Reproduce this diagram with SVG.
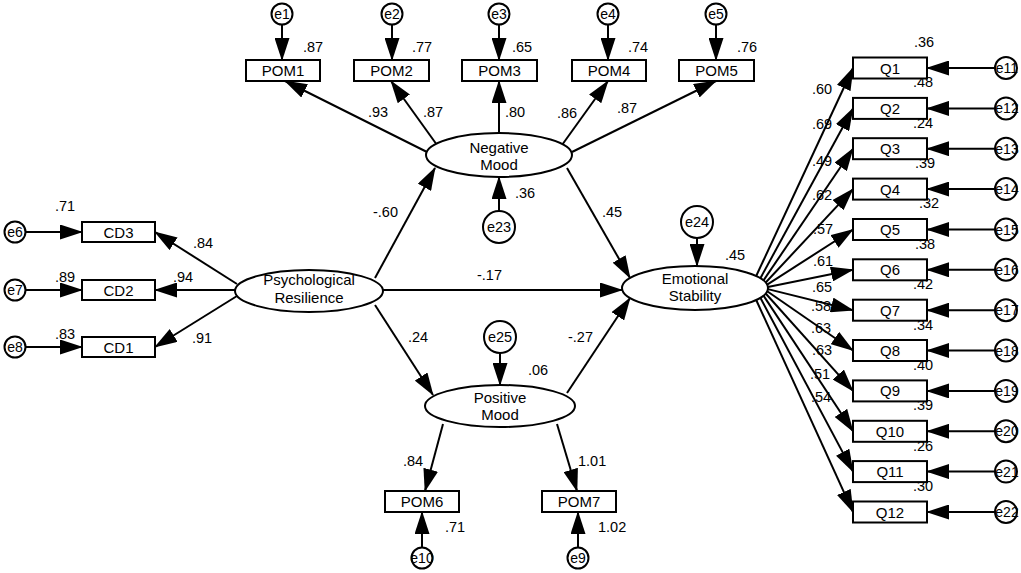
<svg xmlns="http://www.w3.org/2000/svg" width="1021" height="573" viewBox="0 0 1021 573">
<style>
text{font-family:"Liberation Sans",Arial,sans-serif;fill:#000}
.n{font-size:15px;text-anchor:middle}
.v{font-size:14.5px}
.e{font-size:14px;text-anchor:middle}
.em{font-size:14.5px;text-anchor:middle}
rect,ellipse,circle{fill:#fff;stroke:#000;stroke-width:2}
.c line{stroke:#000;stroke-width:2;marker-end:url(#ah)}
</style>
<defs>
<marker id="ah" markerUnits="userSpaceOnUse" markerWidth="23" markerHeight="15" refX="22" refY="7.5" orient="auto"><path d="M0,0 L23,7.5 L0,15 z" fill="#000"/></marker>
</defs>
<rect x="0" y="0" width="1021" height="573" style="fill:#fff;stroke:none"/>
<g class="c" id="connectors">
<line x1="282" y1="24.5" x2="282" y2="60"/>
<line x1="392" y1="24.5" x2="392" y2="60"/>
<line x1="499" y1="24.5" x2="499" y2="60"/>
<line x1="608" y1="24.5" x2="608" y2="60"/>
<line x1="716" y1="24.5" x2="716" y2="60"/>
<line x1="427" y1="152" x2="285" y2="81"/>
<line x1="437" y1="145" x2="391" y2="81"/>
<line x1="499" y1="133" x2="499" y2="81"/>
<line x1="562" y1="145" x2="608" y2="81"/>
<line x1="572" y1="152" x2="716" y2="81"/>
<line x1="25.5" y1="232" x2="82" y2="232"/>
<line x1="25.5" y1="290" x2="82" y2="290"/>
<line x1="25.5" y1="347" x2="82" y2="347"/>
<line x1="237" y1="284" x2="155" y2="232"/>
<line x1="235" y1="290" x2="155" y2="290"/>
<line x1="237" y1="296" x2="155" y2="347"/>
<line x1="375" y1="278" x2="435" y2="168"/>
<line x1="383" y1="290" x2="622" y2="290"/>
<line x1="375" y1="305" x2="433" y2="395"/>
<line x1="567" y1="168" x2="630" y2="278"/>
<line x1="567" y1="393" x2="630" y2="298"/>
<line x1="499" y1="211" x2="499" y2="177"/>
<line x1="697" y1="238" x2="697" y2="266"/>
<line x1="500" y1="353" x2="500" y2="385"/>
<line x1="443" y1="424" x2="425" y2="491"/>
<line x1="557" y1="424" x2="577" y2="491"/>
<line x1="422" y1="547.5" x2="422" y2="512"/>
<line x1="578" y1="547.5" x2="578" y2="512"/>
<line x1="756.2" y1="276" x2="853" y2="68"/>
<line x1="760.4" y1="278.2" x2="853" y2="108.4"/>
<line x1="763.5" y1="280.4" x2="853" y2="148.7"/>
<line x1="765.7" y1="282.5" x2="853" y2="189.1"/>
<line x1="767.2" y1="284.7" x2="853" y2="229.5"/>
<line x1="767.9" y1="286.9" x2="853" y2="269.8"/>
<line x1="767.9" y1="289.1" x2="853" y2="310.2"/>
<line x1="767.2" y1="291.3" x2="853" y2="350.5"/>
<line x1="765.7" y1="293.5" x2="853" y2="390.9"/>
<line x1="763.5" y1="295.6" x2="853" y2="431.3"/>
<line x1="760.4" y1="297.8" x2="853" y2="471.6"/>
<line x1="756.2" y1="300" x2="853" y2="512"/>
<line x1="995" y1="68" x2="927" y2="68"/>
<line x1="995" y1="108.4" x2="927" y2="108.4"/>
<line x1="995" y1="148.7" x2="927" y2="148.7"/>
<line x1="995" y1="189.1" x2="927" y2="189.1"/>
<line x1="995" y1="229.5" x2="927" y2="229.5"/>
<line x1="995" y1="269.8" x2="927" y2="269.8"/>
<line x1="995" y1="310.2" x2="927" y2="310.2"/>
<line x1="995" y1="350.5" x2="927" y2="350.5"/>
<line x1="995" y1="390.9" x2="927" y2="390.9"/>
<line x1="995" y1="431.3" x2="927" y2="431.3"/>
<line x1="995" y1="471.6" x2="927" y2="471.6"/>
<line x1="995" y1="512" x2="927" y2="512"/>
</g>
<g id="labels">
<text class="v" x="303" y="52">.87</text>
<text class="v" x="412" y="52">.77</text>
<text class="v" x="512" y="52">.65</text>
<text class="v" x="628" y="52">.74</text>
<text class="v" x="737" y="52">.76</text>
<text class="v" x="368" y="117">.93</text>
<text class="v" x="423" y="117">.87</text>
<text class="v" x="505" y="117">.80</text>
<text class="v" x="557" y="118">.86</text>
<text class="v" x="617" y="113">.87</text>
<text class="v" x="55" y="211">.71</text>
<text class="v" x="55" y="282">.89</text>
<text class="v" x="55" y="339">.83</text>
<text class="v" x="193" y="248">.84</text>
<text class="v" x="173" y="282">.94</text>
<text class="v" x="192" y="343">.91</text>
<text class="v" x="373" y="217">-.60</text>
<text class="v" x="477" y="280">-.17</text>
<text class="v" x="515" y="198">.36</text>
<text class="v" x="602" y="217">.45</text>
<text class="v" x="408" y="342">.24</text>
<text class="v" x="568" y="342">-.27</text>
<text class="v" x="725" y="260">.45</text>
<text class="v" x="528" y="375">.06</text>
<text class="v" x="403" y="466">.84</text>
<text class="v" x="578" y="466">1.01</text>
<text class="v" x="445" y="532">.71</text>
<text class="v" x="598" y="532">1.02</text>
<text class="v" x="812" y="94">.60</text>
<text class="v" x="812" y="129">.69</text>
<text class="v" x="812" y="166">.49</text>
<text class="v" x="812" y="200">.62</text>
<text class="v" x="813" y="234">.57</text>
<text class="v" x="813" y="266">.61</text>
<text class="v" x="812" y="292">.65</text>
<text class="v" x="811" y="311">.58</text>
<text class="v" x="811" y="333">.63</text>
<text class="v" x="812" y="355">.63</text>
<text class="v" x="810" y="379">.51</text>
<text class="v" x="811" y="402">.54</text>
<text class="v" x="914" y="47">.36</text>
<text class="v" x="913" y="87">.48</text>
<text class="v" x="913" y="128">.24</text>
<text class="v" x="915" y="168">.39</text>
<text class="v" x="919" y="208">.32</text>
<text class="v" x="915" y="249">.38</text>
<text class="v" x="913" y="289">.42</text>
<text class="v" x="913" y="330">.34</text>
<text class="v" x="913" y="370">.40</text>
<text class="v" x="913" y="410">.39</text>
<text class="v" x="913" y="451">.26</text>
<text class="v" x="913" y="491">.30</text>
</g>
<g id="POM1"><rect x="246" y="60" width="74" height="21"/><text class="n" x="283" y="76">POM1</text></g>
<g id="POM2"><rect x="354" y="60" width="75" height="21"/><text class="n" x="391.5" y="76">POM2</text></g>
<g id="POM3"><rect x="462" y="60" width="75" height="21"/><text class="n" x="499.5" y="76">POM3</text></g>
<g id="POM4"><rect x="572" y="60" width="74" height="21"/><text class="n" x="609" y="76">POM4</text></g>
<g id="POM5"><rect x="679" y="60" width="75" height="21"/><text class="n" x="716.5" y="76">POM5</text></g>
<g id="e1"><circle cx="282" cy="14" r="10.5"/><text class="e" x="282" y="19">e1</text></g>
<g id="e2"><circle cx="392" cy="14" r="10.5"/><text class="e" x="392" y="19">e2</text></g>
<g id="e3"><circle cx="499" cy="14" r="10.5"/><text class="e" x="499" y="19">e3</text></g>
<g id="e4"><circle cx="608" cy="14" r="10.5"/><text class="e" x="608" y="19">e4</text></g>
<g id="e5"><circle cx="716" cy="14" r="10.5"/><text class="e" x="716" y="19">e5</text></g>
<g id="CD3"><rect x="82" y="222" width="73" height="20"/><text class="n" x="118.5" y="237.5">CD3</text></g>
<g id="CD2"><rect x="82" y="280" width="73" height="20"/><text class="n" x="118.5" y="295.5">CD2</text></g>
<g id="CD1"><rect x="82" y="337" width="73" height="20"/><text class="n" x="118.5" y="352.5">CD1</text></g>
<g id="e6"><circle cx="15" cy="232" r="10.5"/><text class="e" x="15" y="237">e6</text></g>
<g id="e7"><circle cx="15" cy="290" r="10.5"/><text class="e" x="15" y="295">e7</text></g>
<g id="e8"><circle cx="15" cy="347" r="10.5"/><text class="e" x="15" y="352">e8</text></g>
<g id="PsychologicalResilience"><ellipse cx="309" cy="291" rx="74" ry="21"/><text class="n" x="309" y="285">Psychological</text><text class="n" x="309" y="303">Resilience</text></g>
<g id="NegativeMood"><ellipse cx="499" cy="155" rx="73" ry="22"/><text class="n" x="499" y="153">Negative</text><text class="n" x="499" y="170">Mood</text></g>
<g id="e23"><circle cx="499" cy="227" r="16"/><text class="em" x="499" y="232">e23</text></g>
<g id="EmotionalStability"><ellipse cx="695" cy="288" rx="73" ry="22"/><text class="n" x="695" y="284">Emotional</text><text class="n" x="695" y="301">Stability</text></g>
<g id="e24"><circle cx="697" cy="222" r="16"/><text class="em" x="697" y="227">e24</text></g>
<g id="PositiveMood"><ellipse cx="500" cy="406" rx="75" ry="21"/><text class="n" x="500" y="403">Positive</text><text class="n" x="500" y="420">Mood</text></g>
<g id="e25"><circle cx="500" cy="337" r="16"/><text class="em" x="500" y="342">e25</text></g>
<g id="POM6"><rect x="385" y="491" width="74" height="21"/><text class="n" x="422" y="507">POM6</text></g>
<g id="POM7"><rect x="542" y="491" width="74" height="21"/><text class="n" x="579" y="507">POM7</text></g>
<g id="e10"><circle cx="422" cy="558" r="10.5"/><text class="e" x="422" y="563">e10</text></g>
<g id="e9"><circle cx="578" cy="558" r="10.5"/><text class="e" x="578" y="563">e9</text></g>
<g id="Q1"><rect x="853" y="57.5" width="74" height="21"/><text class="n" x="890" y="73.5">Q1</text></g>
<g id="Q2"><rect x="853" y="97.9" width="74" height="21"/><text class="n" x="890" y="113.9">Q2</text></g>
<g id="Q3"><rect x="853" y="138.2" width="74" height="21"/><text class="n" x="890" y="154.2">Q3</text></g>
<g id="Q4"><rect x="853" y="178.6" width="74" height="21"/><text class="n" x="890" y="194.6">Q4</text></g>
<g id="Q5"><rect x="853" y="219" width="74" height="21"/><text class="n" x="890" y="235">Q5</text></g>
<g id="Q6"><rect x="853" y="259.3" width="74" height="21"/><text class="n" x="890" y="275.3">Q6</text></g>
<g id="Q7"><rect x="853" y="299.7" width="74" height="21"/><text class="n" x="890" y="315.7">Q7</text></g>
<g id="Q8"><rect x="853" y="340" width="74" height="21"/><text class="n" x="890" y="356">Q8</text></g>
<g id="Q9"><rect x="853" y="380.4" width="74" height="21"/><text class="n" x="890" y="396.4">Q9</text></g>
<g id="Q10"><rect x="853" y="420.8" width="74" height="21"/><text class="n" x="890" y="436.8">Q10</text></g>
<g id="Q11"><rect x="853" y="461.1" width="74" height="21"/><text class="n" x="890" y="477.1">Q11</text></g>
<g id="Q12"><rect x="853" y="501.5" width="74" height="21"/><text class="n" x="890" y="517.5">Q12</text></g>
<g id="e11"><circle cx="1006" cy="68" r="11"/><text class="e" x="1007" y="73">e11</text></g>
<g id="e12"><circle cx="1006" cy="108.4" r="11"/><text class="e" x="1007" y="113.4">e12</text></g>
<g id="e13"><circle cx="1006" cy="148.7" r="11"/><text class="e" x="1007" y="153.7">e13</text></g>
<g id="e14"><circle cx="1006" cy="189.1" r="11"/><text class="e" x="1007" y="194.1">e14</text></g>
<g id="e15"><circle cx="1006" cy="229.5" r="11"/><text class="e" x="1007" y="234.5">e15</text></g>
<g id="e16"><circle cx="1006" cy="269.8" r="11"/><text class="e" x="1007" y="274.8">e16</text></g>
<g id="e17"><circle cx="1006" cy="310.2" r="11"/><text class="e" x="1007" y="315.2">e17</text></g>
<g id="e18"><circle cx="1006" cy="350.5" r="11"/><text class="e" x="1007" y="355.5">e18</text></g>
<g id="e19"><circle cx="1006" cy="390.9" r="11"/><text class="e" x="1007" y="395.9">e19</text></g>
<g id="e20"><circle cx="1006" cy="431.3" r="11"/><text class="e" x="1007" y="436.3">e20</text></g>
<g id="e21"><circle cx="1006" cy="471.6" r="11"/><text class="e" x="1007" y="476.6">e21</text></g>
<g id="e22"><circle cx="1006" cy="512" r="11"/><text class="e" x="1007" y="517">e22</text></g>
</svg>
